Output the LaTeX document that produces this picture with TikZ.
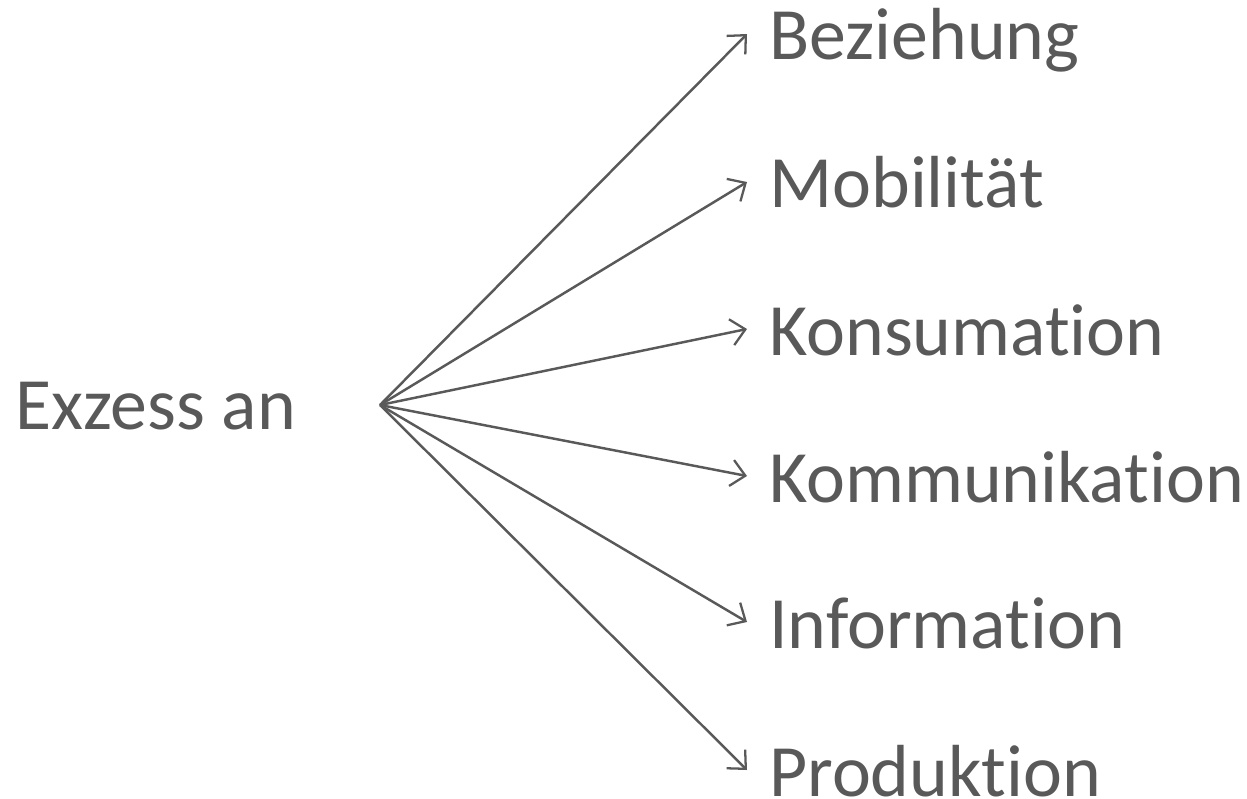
\documentclass[tikz,border=0pt]{standalone}
\usepackage{fontspec}
\setmainfont{Carlito}[Ligatures={NoCommon}]
\usetikzlibrary{arrows.meta}
\definecolor{txt}{HTML}{595959}
\begin{document}
\begin{tikzpicture}[x=0.02cm,y=-0.02cm,
  lbl/.style={anchor=base west,inner sep=0pt,text=txt,font=\fontsize{42pt}{48pt}\selectfont},
  conn/.style={draw=txt,line width=1.4pt,-{Straight Barb[length=8pt,width=15pt,line width=1.3pt]}}]
\useasboundingbox (0,0) rectangle (1247,798);
\node[lbl] (src) at (15,429) {Exzess an};
\coordinate (hub) at (380,405);
\node[lbl] (t1) at (769,59) {Beziehung};
\node[lbl] (t2) at (769,207) {Mobilität};
\node[lbl] (t3) at (769,355) {Konsumation};
\node[lbl] (t4) at (769,502) {Kommunikation};
\node[lbl] (t5) at (769,648) {Information};
\node[lbl] (t6) at (769,796) {Produktion};
\coordinate (e1) at (747,34);
\coordinate (e2) at (747,182);
\coordinate (e3) at (747,329);
\coordinate (e4) at (747,476);
\coordinate (e5) at (747,622);
\coordinate (e6) at (747,770);
\foreach \i in {1,...,6} \draw[conn] (hub) -- (e\i);
\end{tikzpicture}
\end{document}
